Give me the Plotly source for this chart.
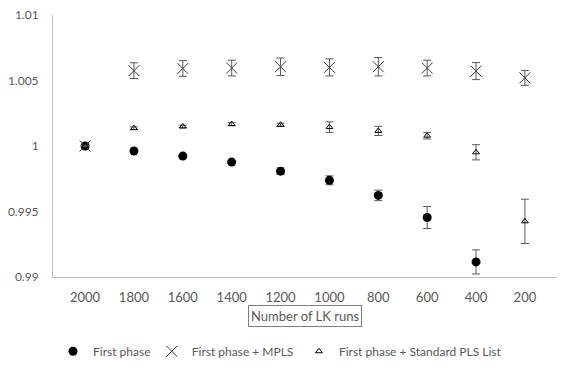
import plotly.graph_objects as go

# data
runs = ["2000", "1800", "1600", "1400", "1200", "1000", "800", "600", "400", "200"]

first_phase = [1.0, 0.99962, 0.99923, 0.99877, 0.99808, 0.99738, 0.99623, 0.99454, 0.99115, None]
first_phase_err = [0.00005, 0.00004, 0.00006, 0.0001, 0.00025, 0.00034, 0.0004, 0.00084, 0.00092, 0]

mpls = [1.0, 1.00575, 1.00592, 1.00595, 1.00605, 1.006, 1.00605, 1.00595, 1.00572, 1.0052]
mpls_err = [0.00005, 0.0006, 0.0006, 0.0006, 0.00067, 0.00065, 0.0007, 0.0006, 0.00065, 0.00057]

std_pls = [1.0, 1.00136, 1.00149, 1.00167, 1.00162, 1.00144, 1.00115, 1.00079, 0.99952, 0.99425]
std_pls_err = [0.00005, 0.0001, 0.0001, 0.00012, 0.00012, 0.0004, 0.00035, 0.00025, 0.00058, 0.00169]

y_ticks = [0.99, 0.995, 1.0, 1.005, 1.01]
y_tick_text = ["0.99", "0.995", "1", "1.005", "1.01"]

font_name = "Lato"
grey = "#595959"

fig = go.Figure()

def err(vals):
    return dict(type="data", array=vals, visible=True, color=grey, thickness=1, width=4)

fig.add_trace(go.Scatter(
    x=runs, y=first_phase, mode="markers", name="First phase", legend="legend",
    marker=dict(symbol="circle", size=9, color="black"),
    error_y=err(first_phase_err),
))
fig.add_trace(go.Scatter(
    x=runs, y=mpls, mode="markers", name="First phase + MPLS", legend="legend2",
    marker=dict(symbol="x-thin-open", size=11, color="#404040", line=dict(width=1, color="#404040")),
    error_y=err(mpls_err),
))
fig.add_trace(go.Scatter(
    x=runs, y=std_pls, mode="markers", name="First phase + Standard PLS List", legend="legend3",
    marker=dict(symbol="triangle-up-open", size=6, color="black", line=dict(width=1, color="black")),
    error_y=err(std_pls_err),
))

# the page body has an 8px margin, so the figure is 16px smaller than the window
leg = dict(orientation="h", xanchor="left", y=-0.228, yanchor="top",
           font=dict(size=12, color=grey), itemwidth=30, bgcolor="rgba(0,0,0,0)")
fig.update_layout(
    width=556, height=360,
    margin=dict(l=45, r=7, t=7, b=91, autoexpand=False),
    paper_bgcolor="white",
    plot_bgcolor="white",
    font=dict(family=font_name, size=13, color=grey),
    showlegend=True,
    legend=dict(leg, x=0.0),
    legend2=dict(leg, x=0.196),
    legend3=dict(leg, x=0.488),
)
fig.update_xaxes(
    type="category", showgrid=False, showline=True, linecolor="#bfbfbf", linewidth=1,
    ticks="", tickfont=dict(size=13, color=grey), ticklabelstandoff=8, automargin=False,
)
fig.update_yaxes(
    range=[0.99, 1.01], tickvals=y_ticks, ticktext=y_tick_text,
    showgrid=False, zeroline=False, showline=True, linecolor="#bfbfbf", linewidth=1,
    ticks="", tickfont=dict(size=12, color=grey), ticklabelstandoff=11, automargin=False,
    ticklabeloverflow="allow",
)

fig.add_annotation(
    text="Number of LK runs", xref="paper", yref="paper", x=0.5, y=-0.15,
    xanchor="center", yanchor="middle", showarrow=False,
    font=dict(size=13, color=grey), bordercolor="#7f7f7f", borderwidth=1, borderpad=2,
)

fig.write_html("out.html")
